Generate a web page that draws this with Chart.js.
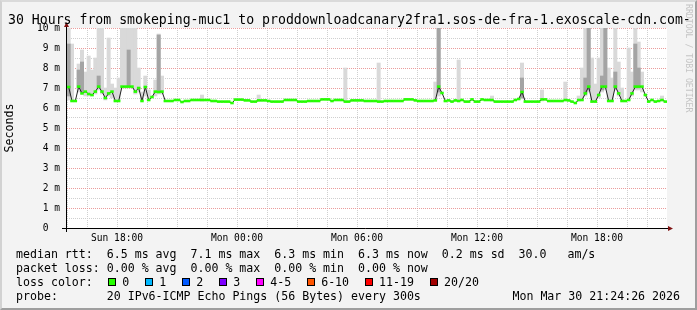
<!DOCTYPE html>
<html>
<head>
<meta charset="utf-8">
<script src="https://cdn.jsdelivr.net/npm/chart.js@4.4.1/dist/chart.umd.min.js"></script>
<style>
  body { margin: 0; background: #f3f3f3; }
  #graph { position: relative; width: 697px; height: 310px; background: #f3f3f3; overflow: hidden;
           font-family: 'DejaVu Sans Mono', monospace; color: #000; }
  #graph canvas { position: absolute; left: 0; top: 0; }
  #title { position: absolute; left: 8px; top: 11.5px; font-size: 13.2px; line-height: 16px; white-space: pre; }
  .txt { position: absolute; white-space: pre; font-size: 11.6px; line-height: 14px; }
  .box { position: absolute; width: 6px; height: 6px; border: 1px solid #000; }
  #mark { position: absolute; left: 684px; top: 4px; writing-mode: vertical-rl; font-size: 8.2px;
          line-height: 9px; color: #c4c4c4; white-space: pre; }
  #frame { position: absolute; left: 0; top: 0; width: 697px; height: 310px; box-sizing: border-box;
           border-style: solid; border-width: 2px; border-color: #dadada #9e9e9e #9e9e9e #d2d2d2; pointer-events: none; }
</style>
</head>
<body>
<div id="graph">
  <canvas id="rrd" width="697" height="310"></canvas>
  <div id="title"></div>
  <div id="mark">RRDTOOL / TOBI OETIKER</div>
  <div id="legend"></div>
  <div id="frame"></div>
</div>
<script>
// 30 hours, one value every 10 minutes, starting Sun 15:30
const STEP_H = 1 / 6;
const titleText = '30 Hours from smokeping-muc1 to proddownloadcanary2fra1.sos-de-fra-1.exoscale-cdn.com-';

// median rtt in ms
const medianMs = [
  7.05, 6.35, 6.35, 7.07, 6.73, 6.82, 6.7, 6.65, 6.82, 7.07,
  6.82, 6.5, 6.73, 6.82, 6.35, 6.35, 7.07, 7.07, 7.07, 7.07,
  6.82, 7.0, 6.35, 7.05, 6.4, 6.55, 6.82, 6.8, 6.82, 6.35,
  6.35, 6.35, 6.4, 6.4, 6.3, 6.35, 6.35, 6.4, 6.4, 6.4,
  6.4, 6.4, 6.4, 6.35, 6.35, 6.32, 6.32, 6.32, 6.32, 6.25,
  6.42, 6.42, 6.42, 6.38, 6.38, 6.32, 6.32, 6.38, 6.38, 6.38,
  6.35, 6.32, 6.32, 6.32, 6.32, 6.4, 6.4, 6.4, 6.4, 6.32,
  6.32, 6.32, 6.35, 6.35, 6.35, 6.35, 6.43, 6.43, 6.43, 6.35,
  6.4, 6.4, 6.4, 6.32, 6.32, 6.38, 6.38, 6.38, 6.38, 6.35,
  6.35, 6.35, 6.35, 6.32, 6.32, 6.35, 6.35, 6.35, 6.35, 6.35,
  6.35, 6.43, 6.43, 6.43, 6.38, 6.35, 6.35, 6.35, 6.35, 6.35,
  6.38, 7.07, 6.75, 6.35, 6.38, 6.32, 6.38, 6.35, 6.4, 6.32,
  6.32, 6.43, 6.32, 6.32, 6.43, 6.4, 6.4, 6.4, 6.32, 6.32,
  6.32, 6.32, 6.32, 6.32, 6.4, 6.45, 6.8, 6.32, 6.32, 6.32,
  6.32, 6.32, 6.43, 6.43, 6.35, 6.35, 6.35, 6.35, 6.35, 6.4,
  6.38, 6.32, 6.25, 6.4, 6.4, 6.73, 7.07, 6.32, 6.32, 6.65,
  7.07, 7.07, 6.35, 6.35, 7.07, 6.73, 6.35, 6.35, 6.4, 6.73,
  7.07, 7.07, 7.07, 6.65, 6.32, 6.4, 6.32, 6.35, 6.4, 6.32
];

// smoke: spread of the 20 pings (light) and inner part (dark), by step index
const smokeIdx = [0, 1, 3, 4, 5, 6, 7, 8, 9, 10, 11, 12, 13, 14, 15, 16, 17, 18, 19, 20, 21,
  22, 23, 24, 26, 27, 28, 40, 57, 83, 93, 110, 111, 117, 127, 136, 142, 149, 153, 154, 155,
  156, 157, 158, 159, 160, 161, 162, 163, 164, 165, 166, 168, 169, 170, 171, 172, 178];
const smokeLo = [6.4, 6.35, 6.8, 6.7, 6.6, 6.6, 6.6, 6.7, 6.9, 6.7, 6.4, 6.6, 6.5, 6.4, 6.4, 7.0, 7.0, 7.0, 7.0, 6.7, 6.8,
  6.4, 6.6, 6.4, 6.6, 6.7, 6.7, 6.35, 6.35, 6.4, 6.35, 6.4, 6.6, 6.35, 6.35, 6.45, 6.35, 6.35, 6.35, 6.4, 6.6,
  6.8, 6.35, 6.35, 6.5, 6.8, 6.9, 6.4, 6.35, 6.9, 6.6, 6.35, 6.4, 6.6, 6.9, 6.9, 6.8, 6.35];
const smokeHi = [10, 9.2, 8.2, 8.9, 7.8, 8.6, 7.9, 8.5, 10, 10, 7.0, 9.5, 7.2, 7.0, 7.5, 10, 10, 10, 10, 10, 8.0,
  6.8, 7.6, 6.9, 7.4, 9.7, 7.6, 6.65, 6.65, 8.0, 8.25, 7.3, 10, 8.4, 6.6, 8.25, 6.9, 7.3, 6.6, 8.0, 10,
  10, 8.5, 7.2, 8.5, 10, 10, 8.0, 7.5, 10, 8.3, 7.0, 9.0, 7.8, 10, 9.3, 7.8, 6.6];
const coreIdx = [0, 3, 4, 9, 18, 27, 111, 136, 155, 156, 160, 161, 164, 170, 171];
const coreLo = [6.6, 7.0, 6.8, 7.0, 7.1, 6.8, 6.8, 6.5, 6.7, 6.9, 6.9, 7.0, 7.0, 7.0, 7.0];
const coreHi = [9.2, 7.9, 8.3, 7.6, 8.9, 9.65, 10, 7.5, 7.5, 10, 7.6, 10, 7.8, 9.2, 8.0];

// axes
const yMajor = [0, 1, 2, 3, 4, 5, 6, 7, 8, 9, 10];
const yMinor = [0.5, 1.5, 2.5, 3.5, 4.5, 5.5, 6.5, 7.5, 8.5, 9.5];
const xMajor = [2.5, 5.5, 8.5, 11.5, 14.5, 17.5, 20.5, 23.5, 26.5, 29.5];
const xMinor = [0.5, 1.5, 3.5, 4.5, 6.5, 7.5, 9.5, 10.5, 12.5, 13.5, 15.5, 16.5, 18.5, 19.5,
  21.5, 22.5, 24.5, 25.5, 27.5, 28.5];
const xLabelAt = [2.5, 8.5, 14.5, 20.5, 26.5];
const xLabelText = ['Sun 18:00', 'Mon 00:00', 'Mon 06:00', 'Mon 12:00', 'Mon 18:00'];

// legend texts
const rttStats = ['6.5 ms avg', '7.1 ms max', '6.3 ms min', '6.3 ms now', '0.2 ms sd', '30.0   am/s'];
const lossStats = ['0.00 % avg', '0.00 % max', '0.00 % min', '0.00 % now'];
const lossLabels = ['0', '1', '2', '3', '4-5', '6-10', '11-19', '20/20'];
const lossColors = ['#26ff00', '#00b8ff', '#0059ff', '#7e00ff', '#ff00ff', '#ff5500', '#ff0000', '#a10000'];
const probeText = '20 IPv6-ICMP Echo Pings (56 Bytes) every 300s';
const stampText = 'Mon Mar 30 21:24:26 2026';

const MONO = "'DejaVu Sans Mono', monospace";

// ---- html texts
document.getElementById('title').textContent = titleText;
const legend = document.getElementById('legend');
function addText(str, x, y, right) {
  const d = document.createElement('div');
  d.className = 'txt';
  d.textContent = str;
  d.style.top = y + 'px';
  if (right) d.style.right = (697 - x) + 'px'; else d.style.left = x + 'px';
  legend.appendChild(d);
}
addText('median rtt:  ' + rttStats.join('  '), 16, 246.7);
addText('packet loss: ' + lossStats.join('  '), 16, 260.7);
addText('loss color:', 16, 274.7);
addText('probe:       ' + probeText, 16, 288.6);
addText(stampText, 680, 288.6, true);

const mctx = document.createElement('canvas').getContext('2d');
mctx.font = '11.6px ' + MONO;
let cx = 108.3;
lossLabels.forEach((lbl, i) => {
  const b = document.createElement('div');
  b.className = 'box';
  b.style.left = cx + 'px';
  b.style.top = '278px';
  b.style.background = lossColors[i];
  legend.appendChild(b);
  addText(lbl, cx + 14, 274.7);
  cx += 14 + mctx.measureText(lbl).width + 16;
});

// ---- chart
const medianPts = medianMs.map((v, i) => ({ x: (i + 0.5) * STEP_H, y: v }));
const smokePts = smokeIdx.map((idx, k) => ({ x: (idx + 0.5) * STEP_H, y: [smokeLo[k], smokeHi[k]] }));
const corePts = coreIdx.map((idx, k) => ({ x: (idx + 0.5) * STEP_H, y: [coreLo[k], coreHi[k]] }));

const rrdFrame = {
  id: 'rrdFrame',
  beforeDraw(chart) {
    const { ctx, chartArea: a } = chart;
    ctx.save();
    ctx.fillStyle = '#ffffff';
    ctx.fillRect(a.left, a.top, a.right - a.left, a.bottom - a.top);
    ctx.restore();
  },
  afterDatasetsDraw(chart) {
    const { ctx, chartArea: a } = chart;
    const ax = a.left - 0.5, ay = a.bottom + 0.5;
    ctx.save();
    ctx.strokeStyle = '#000000';
    ctx.lineWidth = 1;
    ctx.beginPath();
    ctx.moveTo(a.left - 5, ay); ctx.lineTo(a.right + 2, ay);
    ctx.moveTo(ax, a.bottom + 4); ctx.lineTo(ax, a.top - 2);
    ctx.stroke();
    ctx.fillStyle = '#7f1212';
    ctx.beginPath();
    ctx.moveTo(ax, a.top - 6); ctx.lineTo(ax - 2.5, a.top - 1); ctx.lineTo(ax + 2.5, a.top - 1); ctx.closePath();
    ctx.moveTo(a.right + 6, ay); ctx.lineTo(a.right + 1, ay - 2.5); ctx.lineTo(a.right + 1, ay + 2.5); ctx.closePath();
    ctx.fill();
    ctx.restore();
  }
};

const tickFont = { family: MONO, size: 9.6 };
const majorGrid = { color: '#eb9c9c', drawTicks: false, lineWidth: 1, borderDash: [1, 1] };
const minorGrid = { color: '#cfcfcf', drawTicks: false, lineWidth: 1, borderDash: [1, 1] };
const dotted = { display: false, dash: [1, 1] };

new Chart(document.getElementById('rrd'), {
  type: 'bar',
  data: {
    datasets: [
      {
        type: 'line', label: 'median loss 0', data: medianPts, order: 0,
        showLine: false, pointStyle: 'line', pointRadius: 1.75, pointHoverRadius: 1.75,
        pointBorderWidth: 2.6, pointBorderColor: '#26ff00', pointBackgroundColor: '#26ff00'
      },
      {
        type: 'line', label: 'median', data: medianPts, order: 1,
        borderColor: '#202020', borderWidth: 1, pointRadius: 0, tension: 0, fill: false
      },
      {
        label: 'smoke core', data: corePts, order: 2, grouped: false,
        backgroundColor: '#a4a4a4', borderWidth: 0, barThickness: 3.34
      },
      {
        label: 'smoke', data: smokePts, order: 3, grouped: false,
        backgroundColor: '#d9d9d9', borderWidth: 0, barThickness: 3.34
      }
    ]
  },
  options: {
    responsive: false,
    animation: false,
    events: [],
    devicePixelRatio: 1,
    layout: { padding: { top: 28, right: 30, bottom: 62, left: 0 } },
    plugins: { legend: { display: false }, tooltip: { enabled: false }, title: { display: false } },
    scales: {
      x: {
        type: 'linear', min: 0, max: 30, offset: false, position: 'bottom',
        grid: majorGrid, border: dotted,
        afterBuildTicks: s => { s.ticks = xMajor.map(v => ({ value: v })); },
        afterFit: s => { s.height = 20; },
        ticks: {
          autoSkip: false, maxRotation: 0, padding: 5, color: '#000', font: tickFont,
          callback: v => {
            const k = xLabelAt.findIndex(h => Math.abs(h - v) < 1e-6);
            return k >= 0 ? xLabelText[k] : '';
          }
        }
      },
      x2: {
        type: 'linear', min: 0, max: 30, offset: false, position: 'bottom',
        grid: minorGrid, border: dotted,
        ticks: { display: false },
        afterBuildTicks: s => { s.ticks = xMinor.map(v => ({ value: v })); },
        afterFit: s => { s.height = 0; }
      },
      y: {
        type: 'linear', min: 0, max: 10, position: 'left',
        grid: majorGrid, border: dotted,
        afterBuildTicks: s => { s.ticks = yMajor.map(v => ({ value: v })); },
        afterFit: s => { s.width = 67; },
        ticks: {
          padding: 7, color: '#000', font: tickFont,
          callback: v => v === 0 ? '0  ' : v + ' m'
        },
        title: {
          display: true, text: 'Seconds', color: '#000',
          font: { family: MONO, size: 11.6 }, padding: { top: 3, bottom: 0 }
        }
      },
      y2: {
        type: 'linear', min: 0, max: 10, position: 'left',
        grid: minorGrid, border: dotted,
        ticks: { display: false },
        afterBuildTicks: s => { s.ticks = yMinor.map(v => ({ value: v })); },
        afterFit: s => { s.width = 0; }
      }
    }
  },
  plugins: [rrdFrame]
});
</script>
</body>
</html>
